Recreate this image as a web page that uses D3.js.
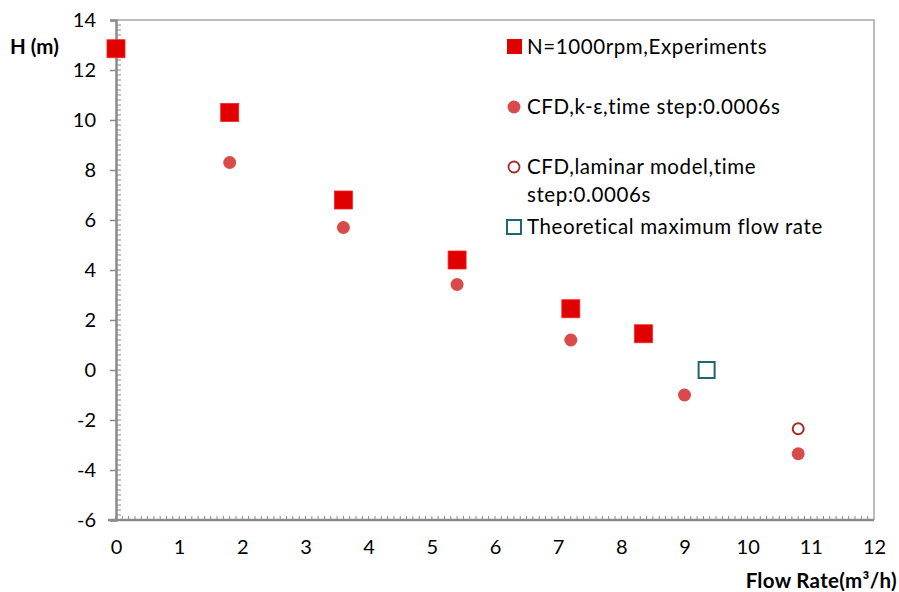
<!DOCTYPE html>
<html>
 <head>
  <meta charset="UTF-8">
  <title>Head vs flow rate</title>
  <style>
    body { margin: 0; background: #fff; }
    text { font-family: Lato, "Open Sans", sans-serif; fill: #000; }
  </style>
 </head>
 <body>
<div id="viz-wrapper"></div>
 <script src="https://cdnjs.cloudflare.com/ajax/libs/d3/7.8.5/d3.min.js"></script>
 <script type="text/javascript">
    // data
    var expFlow = [0, 1.8, 3.6, 5.4, 7.2, 8.35];
    var expHead = [12.85, 10.3, 6.8, 4.4, 2.45, 1.45];

    var keFlow = [1.8, 3.6, 5.4, 7.2, 9, 10.8];
    var keHead = [8.3, 5.7, 3.42, 1.2, -1.0, -3.35];

    var lamFlow = [10.8];
    var lamHead = [-2.35];

    var theoFlow = [9.35];
    var theoHead = [0];

    var xTicks = [0, 1, 2, 3, 4, 5, 6, 7, 8, 9, 10, 11, 12];
    var yTicks = [-6, -4, -2, 0, 2, 4, 6, 8, 10, 12, 14];

    var legendLabels = [
      ["N=1000rpm,Experiments"],
      ["CFD,k-\u03b5,time step:0.0006s"],
      ["CFD,laminar model,time", "step:0.0006s"],
      ["Theoretical maximum flow rate"]
    ];

    // svg size and plot box (window.top is read-only, so plotTop etc.)
    var width = 899, height = 592;
    var plotLeft = 116, plotRight = 874, plotTop = 20, plotBottom = 520;

    var svg = d3.select("#viz-wrapper")
                .append("svg")
                .attr("width", width)
                .attr("height", height);

    var x = d3.scaleLinear().domain([0, 12]).range([plotLeft, plotRight]);
    var y = d3.scaleLinear().domain([-6, 14]).range([plotBottom, plotTop]);

    var axisColor = "#8a8a8a";
    // plain hyphen for negatives, like the original
    var plainFormat = function(d) { return String(d); };

    // top and right frame
    svg.append("path")
       .attr("d", "M" + plotLeft + "," + plotTop + "H" + plotRight + "V" + plotBottom)
       .attr("fill", "none")
       .attr("stroke", "#a6a6a6")
       .attr("stroke-width", 1.5);

    // minor ticks, pointing inside
    var xMinor = d3.range(0, 120).map(function(i) { return i / 10; });
    svg.append("g").selectAll("line")
       .data(xMinor).enter().append("line")
       .attr("x1", function(d) { return x(d); })
       .attr("x2", function(d) { return x(d); })
       .attr("y1", plotBottom)
       .attr("y2", plotBottom - 4)
       .attr("stroke", axisColor)
       .attr("stroke-width", 1);

    var yMinor = d3.range(0, 100).map(function(i) { return -6 + i / 5; });
    svg.append("g").selectAll("line")
       .data(yMinor).enter().append("line")
       .attr("x1", plotLeft)
       .attr("x2", plotLeft + 5)
       .attr("y1", function(d) { return y(d); })
       .attr("y2", function(d) { return y(d); })
       .attr("stroke", axisColor)
       .attr("stroke-width", 1);

    // axes
    var xAxis = svg.append("g")
       .attr("transform", "translate(0," + plotBottom + ")")
       .call(d3.axisBottom(x).tickValues(xTicks).tickSize(0).tickPadding(20).tickFormat(plainFormat));
    var yAxis = svg.append("g")
       .attr("transform", "translate(" + plotLeft + ",0)")
       .call(d3.axisLeft(y).tickValues(yTicks).tickSize(6).tickPadding(14).tickFormat(plainFormat));

    [xAxis, yAxis].forEach(function(a) {
      a.select(".domain").attr("stroke", axisColor).attr("stroke-width", 2.5);
      a.selectAll(".tick line").attr("stroke", axisColor).attr("stroke-width", 1.5);
      a.selectAll(".tick text")
       .style("font-family", "Lato, sans-serif")
       .style("font-size", "20px")
       .attr("fill", "#000");
    });
    xAxis.select(".domain").attr("d", "M" + (plotLeft - 8) + ",0H" + plotRight);

    // axis titles
    svg.append("text")
       .attr("x", 10).attr("y", 54)
       .style("font-size", "20.5px").style("font-weight", "bold")
       .text("H (m)");
    svg.append("text")
       .attr("x", 897).attr("y", 588)
       .attr("text-anchor", "end")
       .style("font-size", "20.5px").style("font-weight", "bold")
       .style("letter-spacing", "0.3px")
       .text("Flow Rate(m\u00b3/h)");

    var expColor = "#e00000", keColor = "#d94a4a", lamColor = "#a32a2a", theoColor = "#1b6670";

    // CFD k-e, filled circles
    svg.append("g").selectAll("circle")
       .data(keFlow).enter().append("circle")
       .attr("cx", function(d) { return x(d); })
       .attr("cy", function(d, i) { return y(keHead[i]); })
       .attr("r", 6.5)
       .attr("fill", keColor);

    // CFD laminar, open circles
    svg.append("g").selectAll("circle")
       .data(lamFlow).enter().append("circle")
       .attr("cx", function(d) { return x(d); })
       .attr("cy", function(d, i) { return y(lamHead[i]); })
       .attr("r", 5.5)
       .attr("fill", "#fff")
       .attr("stroke", lamColor)
       .attr("stroke-width", 2);

    // theoretical max, open square
    svg.append("g").selectAll("rect")
       .data(theoFlow).enter().append("rect")
       .attr("x", function(d) { return x(d) - 8; })
       .attr("y", function(d, i) { return y(theoHead[i]) - 8; })
       .attr("width", 16).attr("height", 16)
       .attr("fill", "#fff")
       .attr("stroke", theoColor)
       .attr("stroke-width", 2);

    // experiments, filled squares
    svg.append("g").selectAll("rect")
       .data(expFlow).enter().append("rect")
       .attr("x", function(d) { return x(d) - 9; })
       .attr("y", function(d, i) { return y(expHead[i]) - 9; })
       .attr("width", 18).attr("height", 18)
       .attr("fill", expColor)
       .attr("stroke", "#ff2020")
       .attr("stroke-width", 0.8);

    // legend
    var legY = [47, 107, 167, 227];
    var leg = svg.append("g");
    leg.append("rect").attr("x", 507).attr("y", legY[0] - 8).attr("width", 15).attr("height", 15).attr("fill", expColor);
    leg.append("circle").attr("cx", 514).attr("cy", legY[1]).attr("r", 6.5).attr("fill", keColor);
    leg.append("circle").attr("cx", 514).attr("cy", legY[2]).attr("r", 5.5).attr("fill", "#fff").attr("stroke", lamColor).attr("stroke-width", 1.8);
    leg.append("rect").attr("x", 507).attr("y", legY[3] - 7).attr("width", 14).attr("height", 14).attr("fill", "#fff").attr("stroke", theoColor).attr("stroke-width", 2);

    legendLabels.forEach(function(lines, i) {
      var t = leg.append("text")
         .attr("x", 527).attr("y", legY[i] + 7)
         .style("font-size", "20.5px")
         .style("letter-spacing", "0.6px");
      lines.forEach(function(l, j) {
        t.append("tspan").attr("x", 527).attr("dy", j === 0 ? 0 : 28).text(l);
      });
    });
 </script>
 </body>
</html>
